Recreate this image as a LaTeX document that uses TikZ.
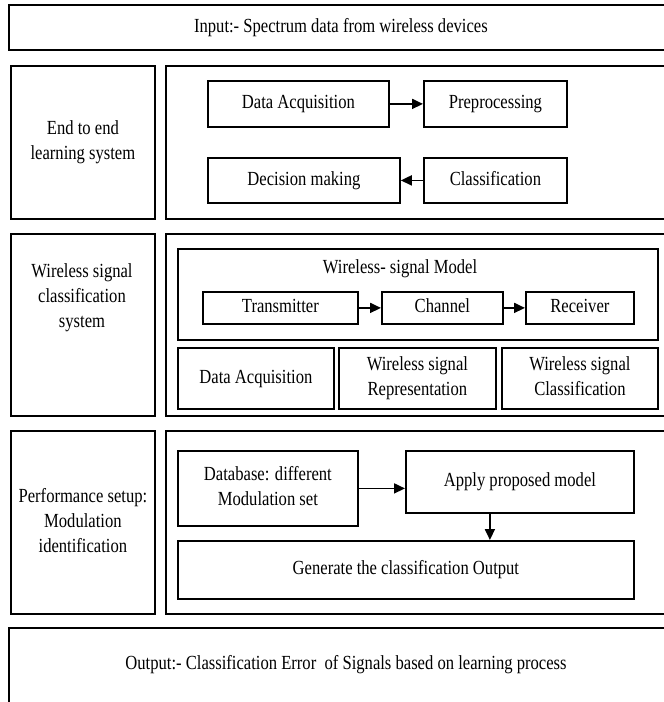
\documentclass[tikz,border=0pt]{standalone}
\usepackage{fontspec}
\setmainfont{Liberation Serif}
\usetikzlibrary{arrows.meta}
\newcommand{\sq}[1]{\scalebox{0.83}[1]{\begin{tabular}{@{}c@{}}#1\end{tabular}}}
\begin{document}
\begin{tikzpicture}[x=1pt,y=-1pt,
  bx/.style={draw, line width=1.8pt, inner sep=0pt, anchor=north west,
    font=\fontsize{20}{25}\selectfont},
  lbl/.style={inner sep=0pt, font=\fontsize{20}{25}\selectfont},
  arr/.style={line width=1.8pt, -{Triangle[length=11pt,width=10pt]}}]
\clip (0,0) rectangle (664,702);
% top
\node[bx, minimum width=664pt, minimum height=45pt] (inp) at (8,4) {\sq{Input:- Spectrum data from wireless devices}};
% row 2
\node[bx, minimum width=144pt, minimum height=153pt] (l2) at (10,65) {\sq{End to end\\learning system}};
\node[bx, minimum width=507pt, minimum height=153pt] (r2) at (165,65) {};
\node[bx, minimum width=181pt, minimum height=46pt] (da) at (207,80) {\sq{Data Acquisition}};
\node[bx, minimum width=143pt, minimum height=46pt] (pp) at (423,80) {\sq{Preprocessing}};
\node[bx, minimum width=192pt, minimum height=45pt] (dm) at (207,157) {\sq{Decision making}};
\node[bx, minimum width=143pt, minimum height=45pt] (cl) at (423,157) {\sq{Classification}};
\draw[arr] (da) -- (pp);
\draw[arr] (cl) -- (dm);
% row 3
\node[bx, minimum width=144pt, minimum height=182pt] (l3) at (10,233) {};
\node[lbl] (l3t) at (82,297) {\sq{Wireless signal\\classification\\system}};
\node[bx, minimum width=507pt, minimum height=182pt] (r3) at (165,233) {};
\node[bx, minimum width=480pt, minimum height=91pt] (wm) at (177,248) {};
\node[lbl] (wmt) at (400,268) {\sq{Wireless- signal Model}};
\node[bx, minimum width=155pt, minimum height=32pt] (tx) at (202,291) {\sq{Transmitter}};
\node[bx, minimum width=121pt, minimum height=32pt] (ch) at (381,291) {\sq{Channel}};
\node[bx, minimum width=108pt, minimum height=32pt] (rx) at (525,291) {\sq{Receiver}};
\draw[arr] (tx) -- (ch);
\draw[arr] (ch) -- (rx);
\node[bx, minimum width=156pt, minimum height=61pt] (da3) at (177,347) {\sq{Data Acquisition}};
\node[bx, minimum width=157pt, minimum height=61pt] (rep) at (338,347) {\sq{Wireless signal\\Representation}};
\node[bx, minimum width=156pt, minimum height=61pt] (wsc) at (501,347) {\sq{Wireless signal\\Classification}};
% row 4
\node[bx, minimum width=144pt, minimum height=183pt] (l4) at (10,430) {\sq{Performance setup:\\Modulation\\identification}};
\node[bx, minimum width=507pt, minimum height=183pt] (r4) at (165,430) {};
\node[bx, minimum width=180pt, minimum height=75pt] (db) at (177,450) {\sq{Database: different\\Modulation set}};
\node[bx, minimum width=228pt, minimum height=62pt] (ap) at (405,450) {\sq{Apply proposed model}};
\node[bx, minimum width=456pt, minimum height=58pt] (gen) at (177,540) {\sq{Generate the classification Output}};
\draw[arr] (db.east) -- (db.east -| ap.west);
\draw[arr] ([xshift=-30pt]ap.south) -- ([xshift=-30pt]ap.south |- gen.north);
% bottom
\node[bx, minimum width=664pt, minimum height=85pt] (out) at (8,627) {};
\node[lbl] (outt) at (346,664) {\sq{Output:- Classification Error~ of Signals based on learning process}};
\end{tikzpicture}
\end{document}
